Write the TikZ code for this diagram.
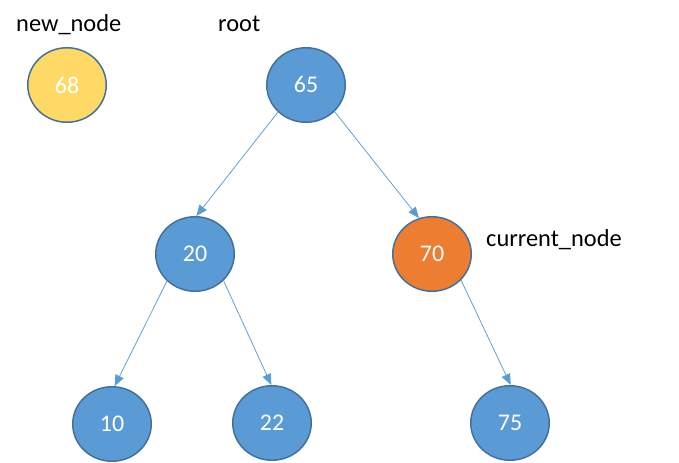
\documentclass[tikz,border=0pt]{standalone}
\usepackage{fontspec}
\setmainfont{Carlito}
\usetikzlibrary{shapes.geometric,arrows.meta}
\definecolor{nodeblue}{HTML}{5B9BD5}
\definecolor{nodeedge}{HTML}{41719C}
\definecolor{nodeorange}{HTML}{ED7D31}
\definecolor{nodeyellow}{HTML}{FFD966}
\definecolor{linkblue}{HTML}{5B9BD5}
\tikzset{
  treenode/.style={ellipse, draw=nodeedge, line width=1.5bp, fill=nodeblue,
    minimum width=78.5bp, minimum height=74.5bp, inner sep=0pt,
    text=white, font=\fontsize{24}{28}\selectfont},
  label text/.style={anchor=base west, inner sep=0pt, font=\fontsize{24.5}{28}\selectfont},
  link/.style={draw=linkblue, line width=0.75bp,
    -{Triangle[length=11bp,width=9bp]}}
}
\begin{document}
\begin{tikzpicture}[x=1bp,y=-1bp]
\useasboundingbox (0,0) rectangle (679,463);
\node[treenode, fill=nodeyellow] (n68) at (67,85) {68};
\node[treenode] (n65) at (306,85) {65};
\node[treenode] (n20) at (195,254) {20};
\node[treenode, fill=nodeorange] (n70) at (432,254) {70};
\node[treenode] (n10) at (112,424) {10};
\node[treenode] (n22) at (272,423) {22};
\node[treenode] (n75) at (510,423) {75};
\node[label text] (lnew) at (16,32) {new\_node};
\node[label text] (lroot) at (218,32) {root};
\node[label text] (lcur) at (486,247) {current\_node};
\draw[link] (n65.224) -- (n20.88);
\draw[link] (n65.317) -- (n70.110);
\draw[link] (n20.224) -- (n10.86);
\draw[link] (n20.317) -- (n22.91);
\draw[link] (n70.318) -- (n75.89);
\end{tikzpicture}
\end{document}
